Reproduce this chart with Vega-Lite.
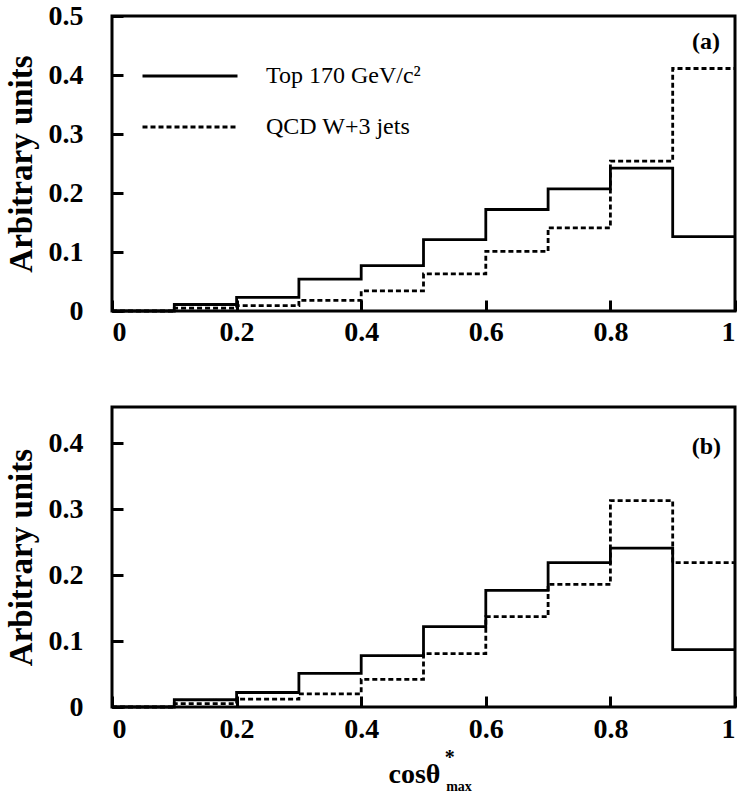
{
  "$schema": "https://vega.github.io/schema/vega-lite/v6.json",
  "background": "white",
  "padding": {"left": 3, "top": 0, "right": 0, "bottom": 0},
  "config": {
    "font": "Liberation Serif",
    "view": {"stroke": "black", "strokeWidth": 3},
    "axis": {
      "domain": false,
      "grid": false,
      "zindex": 1,
      "offset": -11,
      "labelFont": "Liberation Serif",
      "labelFontWeight": "bold",
      "labelFontSize": 28,
      "labelColor": "black",
      "ticks": true,
      "tickColor": "black",
      "tickOpacity": 1,
      "tickWidth": 3,
      "tickSize": 11,
      "titleFont": "Liberation Serif",
      "titleFontWeight": "bold",
      "titleColor": "black"
    }
  },
  "datasets": {
    "hist": [
      {"panel": "a", "series": "Top 170 GeV/c²", "x": 0, "y": 0},
      {"panel": "a", "series": "Top 170 GeV/c²", "x": 0.1, "y": 0.011},
      {"panel": "a", "series": "Top 170 GeV/c²", "x": 0.2, "y": 0.023},
      {"panel": "a", "series": "Top 170 GeV/c²", "x": 0.3, "y": 0.054},
      {"panel": "a", "series": "Top 170 GeV/c²", "x": 0.4, "y": 0.077},
      {"panel": "a", "series": "Top 170 GeV/c²", "x": 0.5, "y": 0.121},
      {"panel": "a", "series": "Top 170 GeV/c²", "x": 0.6, "y": 0.172},
      {"panel": "a", "series": "Top 170 GeV/c²", "x": 0.7, "y": 0.207},
      {"panel": "a", "series": "Top 170 GeV/c²", "x": 0.8, "y": 0.242},
      {"panel": "a", "series": "Top 170 GeV/c²", "x": 0.9, "y": 0.126},
      {"panel": "a", "series": "Top 170 GeV/c²", "x": 1.0, "y": 0.126},
      {"panel": "a", "series": "QCD W+3 jets", "x": 0, "y": 0},
      {"panel": "a", "series": "QCD W+3 jets", "x": 0.1, "y": 0.005},
      {"panel": "a", "series": "QCD W+3 jets", "x": 0.2, "y": 0.009},
      {"panel": "a", "series": "QCD W+3 jets", "x": 0.3, "y": 0.018},
      {"panel": "a", "series": "QCD W+3 jets", "x": 0.4, "y": 0.034},
      {"panel": "a", "series": "QCD W+3 jets", "x": 0.5, "y": 0.063},
      {"panel": "a", "series": "QCD W+3 jets", "x": 0.6, "y": 0.101},
      {"panel": "a", "series": "QCD W+3 jets", "x": 0.7, "y": 0.141},
      {"panel": "a", "series": "QCD W+3 jets", "x": 0.8, "y": 0.254},
      {"panel": "a", "series": "QCD W+3 jets", "x": 0.9, "y": 0.411},
      {"panel": "a", "series": "QCD W+3 jets", "x": 1.0, "y": 0.411},
      {"panel": "b", "series": "Top 170 GeV/c²", "x": 0, "y": 0},
      {"panel": "b", "series": "Top 170 GeV/c²", "x": 0.1, "y": 0.011},
      {"panel": "b", "series": "Top 170 GeV/c²", "x": 0.2, "y": 0.022},
      {"panel": "b", "series": "Top 170 GeV/c²", "x": 0.3, "y": 0.051},
      {"panel": "b", "series": "Top 170 GeV/c²", "x": 0.4, "y": 0.078},
      {"panel": "b", "series": "Top 170 GeV/c²", "x": 0.5, "y": 0.122},
      {"panel": "b", "series": "Top 170 GeV/c²", "x": 0.6, "y": 0.177},
      {"panel": "b", "series": "Top 170 GeV/c²", "x": 0.7, "y": 0.219},
      {"panel": "b", "series": "Top 170 GeV/c²", "x": 0.8, "y": 0.241},
      {"panel": "b", "series": "Top 170 GeV/c²", "x": 0.9, "y": 0.087},
      {"panel": "b", "series": "Top 170 GeV/c²", "x": 1.0, "y": 0.087},
      {"panel": "b", "series": "QCD W+3 jets", "x": 0, "y": 0},
      {"panel": "b", "series": "QCD W+3 jets", "x": 0.1, "y": 0.005},
      {"panel": "b", "series": "QCD W+3 jets", "x": 0.2, "y": 0.012},
      {"panel": "b", "series": "QCD W+3 jets", "x": 0.3, "y": 0.02},
      {"panel": "b", "series": "QCD W+3 jets", "x": 0.4, "y": 0.042},
      {"panel": "b", "series": "QCD W+3 jets", "x": 0.5, "y": 0.081},
      {"panel": "b", "series": "QCD W+3 jets", "x": 0.6, "y": 0.137},
      {"panel": "b", "series": "QCD W+3 jets", "x": 0.7, "y": 0.186},
      {"panel": "b", "series": "QCD W+3 jets", "x": 0.8, "y": 0.313},
      {"panel": "b", "series": "QCD W+3 jets", "x": 0.9, "y": 0.219},
      {"panel": "b", "series": "QCD W+3 jets", "x": 1.0, "y": 0.219}
    ]
  },
  "spacing": 96,
  "bounds": "flush",
  "resolve": {"scale": {"y": "independent"}, "legend": {"strokeDash": "independent"}},
  "vconcat": [
    {
      "width": 623,
      "height": 295,
      "title": {"text": "(a)", "anchor": "end", "frame": "group", "orient": "top", "offset": 0, "dy": 52, "dx": -15, "fontSize": 24, "fontWeight": "bold", "font": "Liberation Serif", "color": "black"},
      "data": {"name": "hist"},
      "transform": [{"filter": "datum.panel === 'a'"}],
      "mark": {"type": "line", "interpolate": "step-after", "color": "black", "strokeWidth": 2.8},
      "encoding": {
        "x": {"field": "x", "type": "quantitative", "scale": {"domain": [0, 1], "nice": false},
              "axis": {"values": [0, 0.2, 0.4, 0.6, 0.8, 1], "format": "~g", "title": null, "labelPadding": 7, "ticks": true, "tickSize": 11}},
        "y": {"field": "y", "type": "quantitative", "scale": {"domain": [0, 0.5], "nice": false},
              "axis": {"values": [0, 0.1, 0.2, 0.3, 0.4, 0.5], "format": "~g", "title": "Arbitrary units", "titleFontSize": 33, "labelPadding": 29, "titlePadding": 10, "ticks": true, "tickSize": 11}},
        "strokeDash": {"field": "series", "type": "nominal",
                       "scale": {"domain": ["Top 170 GeV/c²", "QCD W+3 jets"], "range": [[1, 0], [5, 3]]},
                       "legend": {"orient": "none", "legendX": 29, "legendY": 50, "title": null, "symbolType": "stroke", "symbolSize": 9025, "symbolStrokeWidth": 3, "symbolStrokeColor": "black", "clipHeight": 20, "rowPadding": 27, "labelFontSize": 24, "labelFont": "Liberation Serif", "labelColor": "black", "labelOffset": 27, "padding": 0, "labelLimit": 400}}
      }
    },
    {
      "width": 623,
      "height": 300,
      "title": {"text": "(b)", "anchor": "end", "frame": "group", "orient": "top", "offset": 0, "dy": 52, "dx": -14, "fontSize": 24, "fontWeight": "bold", "font": "Liberation Serif", "color": "black"},
      "layer": [
        {
          "data": {"name": "hist"},
          "transform": [{"filter": "datum.panel === 'b'"}],
          "mark": {"type": "line", "interpolate": "step-after", "color": "black", "strokeWidth": 2.8},
          "encoding": {
            "x": {"field": "x", "type": "quantitative", "scale": {"domain": [0, 1], "nice": false},
                  "axis": {"values": [0, 0.2, 0.4, 0.6, 0.8, 1], "format": "~g", "title": "cosθ", "titleFontSize": 28, "titleX": 302, "titleY": 64, "labelPadding": 8, "ticks": true, "tickSize": 11}},
            "y": {"field": "y", "type": "quantitative", "scale": {"domain": [0, 0.455], "nice": false},
                  "axis": {"values": [0, 0.1, 0.2, 0.3, 0.4], "format": "~g", "title": "Arbitrary units", "titleFontSize": 33, "labelPadding": 29, "titlePadding": 10, "ticks": true, "tickSize": 11}},
            "strokeDash": {"field": "series", "type": "nominal",
                           "scale": {"domain": ["Top 170 GeV/c²", "QCD W+3 jets"], "range": [[1, 0], [5, 3]]},
                           "legend": null}
          }
        },
        {
          "data": {"values": [{"label": "*"}]},
          "mark": {"type": "text", "fontSize": 20, "fontWeight": "bold", "font": "Liberation Serif", "color": "black"},
          "encoding": {"x": {"datum": 0.542}, "y": {"datum": -0.077}, "text": {"field": "label"}}
        },
        {
          "data": {"values": [{"label": "max"}]},
          "mark": {"type": "text", "fontSize": 14, "fontWeight": "bold", "font": "Liberation Serif", "color": "black"},
          "encoding": {"x": {"datum": 0.557}, "y": {"datum": -0.122}, "text": {"field": "label"}}
        }
      ]
    }
  ]
}
